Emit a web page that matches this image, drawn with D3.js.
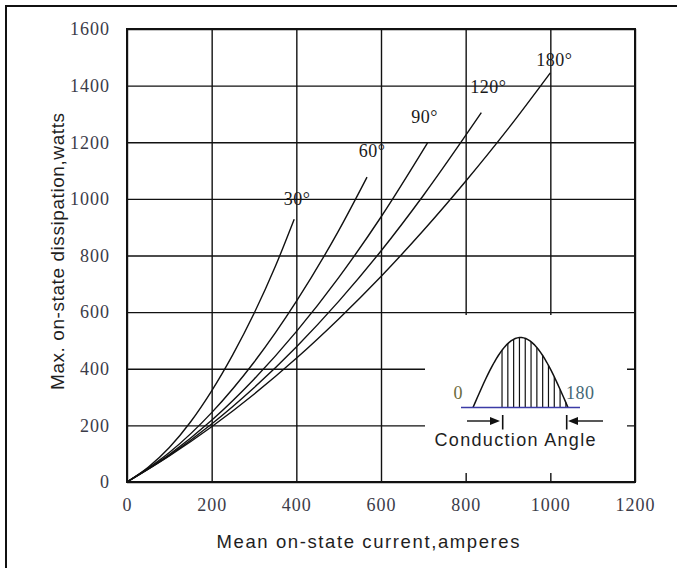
<!DOCTYPE html>
<html>
<head>
<meta charset="utf-8">
<script src="https://cdn.jsdelivr.net/npm/d3@7"></script>
<style>
  body { margin: 0; background: #fff; }
  .tick text { font-family: 'Liberation Serif', 'Times New Roman', serif; font-size: 18px; fill: #3b3b48; letter-spacing: 1px; }
  .grid line { stroke: #111; stroke-width: 1.4; }
  .grid .domain { display: none; }
</style>
</head>
<body>
<div id="chart"></div>
<script>
// ticks
const xTicks = [0, 200, 400, 600, 800, 1000, 1200]
const yTicks = [0, 200, 400, 600, 800, 1000, 1200, 1400, 1600]

// conduction angles and their curves: [mean current A, dissipation W]
const angleLabels = ['30°', '60°', '90°', '120°', '180°']
const curve30 = [[0, 0], [50, 52], [100, 122], [150, 212], [200, 322], [250, 450], [300, 595], [350, 760], [395, 928]]
const curve60 = [[0, 0], [100, 104], [200, 245], [300, 423], [400, 638], [500, 888], [567, 1077]]
const curve90 = [[0, 0], [100, 97], [200, 218], [300, 363], [400, 531], [500, 722], [600, 936], [710, 1198]]
const curve120 = [[0, 0], [100, 94], [200, 205], [300, 333], [400, 477], [500, 638], [600, 816], [700, 1012], [800, 1224], [837, 1305]]
const curve180 = [[0, 0], [100, 92], [200, 195], [300, 310], [400, 437], [500, 576], [600, 726], [700, 888], [800, 1062], [900, 1247], [1000, 1445]]
const curves = [curve30, curve60, curve90, curve120, curve180]

const W = 681
const H = 568
const margin = { top: 29, right: 46, bottom: 86, left: 127 }
const width = W - margin.left - margin.right
const height = H - margin.top - margin.bottom

const root = d3.select('#chart')
  .append('svg')
  .attr('width', W)
  .attr('height', H)

// outer frame
root.append('path')
  .attr('d', 'M6,568 V6 H677')
  .attr('fill', 'none')
  .attr('stroke', '#111')
  .attr('stroke-width', 2)

const svg = root.append('g')
  .attr('transform', 'translate(' + margin.left + ',' + margin.top + ')')

const x = d3.scaleLinear().domain([0, 1200]).range([0, width])
const y = d3.scaleLinear().domain([0, 1600]).range([height, 0])

// grid + tick labels
svg.append('g')
  .attr('class', 'grid')
  .call(d3.axisLeft(y).tickValues(yTicks).tickSize(-width).tickPadding(17).tickFormat(d3.format('d')))

svg.append('g')
  .attr('class', 'grid')
  .attr('transform', 'translate(0,' + height + ')')
  .call(d3.axisBottom(x).tickValues(xTicks).tickSize(-height).tickPadding(16).tickFormat(d3.format('d')))

const line = d3.line()
  .x(d => x(d[0]))
  .y(d => y(d[1]))
  .curve(d3.curveMonotoneX)

svg.selectAll('.curve')
  .data(curves)
  .enter()
  .append('path')
  .attr('class', 'curve')
  .attr('d', line)
  .attr('fill', 'none')
  .attr('stroke', '#111')
  .attr('stroke-width', 1.4)

// label offsets from each curve end, in px
const labelOffsets = [[3, -14], [5, -20], [-3, -20], [7, -20], [4, -7]]
svg.selectAll('.angle')
  .data(curves)
  .enter()
  .append('text')
  .attr('class', 'angle')
  .attr('x', (d, i) => x(d[d.length - 1][0]) + labelOffsets[i][0])
  .attr('y', (d, i) => y(d[d.length - 1][1]) + labelOffsets[i][1])
  .attr('text-anchor', 'middle')
  .style('font-family', "'Liberation Serif', serif")
  .style('font-size', '18px')
  .style('letter-spacing', '0.5px')
  .attr('fill', '#1a1a1a')
  .text((d, i) => angleLabels[i])

// inset box blanks the grid
svg.append('rect')
  .attr('x', 298)
  .attr('y', 286)
  .attr('width', 202)
  .attr('height', 158)
  .attr('fill', '#fff')

// plot frame
svg.append('rect')
  .attr('width', width)
  .attr('height', height)
  .attr('fill', 'none')
  .attr('stroke', '#111')
  .attr('stroke-width', 2)

// inset: conduction angle sketch
const inset = root.append('g')
const ang = d3.scaleLinear().domain([0, 180]).range([473, 568])
const amp = d3.scaleLinear().domain([0, 1]).range([407.5, 337.5])
const wave = d3.range(0, 181, 4).map(a => [a, Math.sin(a * Math.PI / 180)])

inset.selectAll('.hatch')
  .data(d3.range(55, 180, 11))
  .enter()
  .append('line')
  .attr('x1', d => ang(d))
  .attr('x2', d => ang(d))
  .attr('y1', amp(0))
  .attr('y2', d => amp(Math.sin(d * Math.PI / 180)))
  .attr('stroke', '#111')
  .attr('stroke-width', 1.2)

inset.append('path')
  .attr('d', d3.line().x(d => ang(d[0])).y(d => amp(d[1]))(wave))
  .attr('fill', 'none')
  .attr('stroke', '#111')
  .attr('stroke-width', 1.5)

inset.append('line')
  .attr('x1', 461).attr('x2', 580)
  .attr('y1', 407.5).attr('y2', 407.5)
  .attr('stroke', '#3b3ba6')
  .attr('stroke-width', 1.6)

inset.append('text')
  .attr('x', 458).attr('y', 399)
  .attr('text-anchor', 'middle')
  .style('font-family', "'Liberation Serif', serif")
  .style('font-size', '18px')
  .attr('fill', '#6b6b3c')
  .text('0')

inset.append('text')
  .attr('x', 566).attr('y', 399)
  .style('font-family', "'Liberation Serif', serif")
  .style('font-size', '18px')
  .style('letter-spacing', '0.5px')
  .attr('fill', '#456876')
  .text('180')

// arrows
const arrows = [[467, 500, 502.7], [603, 568, 566.7]]
arrows.forEach(a => {
  const dir = Math.sign(a[1] - a[0])
  inset.append('line')
    .attr('x1', a[0]).attr('x2', a[1] - dir * 6)
    .attr('y1', 421).attr('y2', 421)
    .attr('stroke', '#111').attr('stroke-width', 1.4)
  inset.append('path')
    .attr('d', 'M' + a[1] + ',421 L' + (a[1] - dir * 10) + ',417 L' + (a[1] - dir * 10) + ',425 Z')
    .attr('fill', '#111')
  inset.append('line')
    .attr('x1', a[2]).attr('x2', a[2])
    .attr('y1', 415).attr('y2', 429.5)
    .attr('stroke', '#111').attr('stroke-width', 1.6)
})

inset.append('text')
  .attr('x', 434.5).attr('y', 445.5)
  .attr('textLength', 161)
  .attr('lengthAdjust', 'spacing')
  .style('font-family', "'Liberation Sans', Arial, sans-serif")
  .style('font-size', '18px')
  .attr('fill', '#1e1e1e')
  .text('Conduction Angle')

// axis titles
root.append('text')
  .attr('x', 216.5).attr('y', 548)
  .attr('textLength', 303)
  .attr('lengthAdjust', 'spacing')
  .style('font-family', "'Liberation Sans', Arial, sans-serif")
  .style('font-size', '18.5px')
  .attr('fill', '#1e1e1e')
  .text('Mean on-state current,amperes')

root.append('text')
  .attr('transform', 'translate(64,390) rotate(-90)')
  .attr('textLength', 277)
  .attr('lengthAdjust', 'spacing')
  .style('font-family', "'Liberation Sans', Arial, sans-serif")
  .style('font-size', '19px')
  .attr('fill', '#1e1e1e')
  .text('Max. on-state dissipation,watts')
</script>
</body>
</html>
